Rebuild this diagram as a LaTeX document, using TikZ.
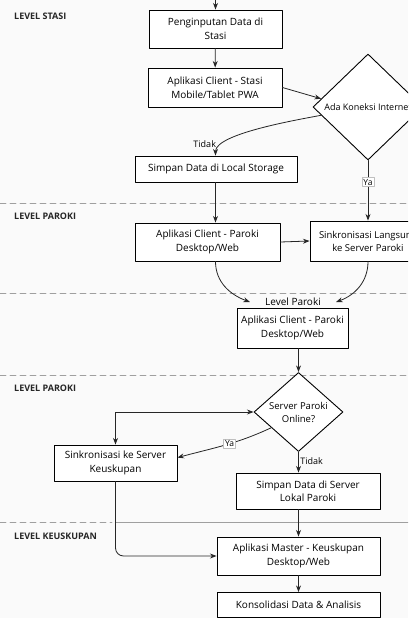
\documentclass[tikz,border=0pt]{standalone}
\usepackage{fontspec}
\setmainfont{Open Sans}
\usepackage{xcolor}
\usepackage{tikz}
\usetikzlibrary{arrows.meta,shapes.geometric}
\tikzset{
  >=Stealth,
  every picture/.style={line cap=round,line join=round},
  box/.style={draw=black, line width=0.9pt, fill=white, align=center,
    inner sep=0pt, font=\fontsize{10}{13.5}\selectfont},
  decision/.style={diamond, aspect=1, draw=black, line width=0.9pt, fill=white,
    align=center, inner sep=0pt, font=\fontsize{9.5}{13}\selectfont},
  lane/.style={draw=gray!75, line width=0.8pt, dash pattern=on 6pt off 4pt},
  lanetitle/.style={anchor=west, inner sep=0pt, text=black!85,
    font=\bfseries\fontsize{9}{10}\selectfont},
  conn/.style={->, draw=black!85, line width=0.8pt},
  edgetext/.style={font=\fontsize{9}{10}\selectfont, inner sep=1.5pt},
  tag/.style={draw=gray!50, fill=white, font=\fontsize{8.5}{10}\selectfont, inner sep=1.5pt},
}

\begin{document}
\begin{tikzpicture}[x=1pt,y=-1pt]
    % 背景と切り抜き
    \useasboundingbox (0,0) rectangle (408,618);
    \fill[black!2] (0,0) rectangle (408,618);
    \clip (0,0) rectangle (408,618);
    % 区切り線
    \foreach \yy in {203,293,375}{%
      \draw[lane] (0,\yy) -- (408,\yy);
    }
    \draw[lane] (0,522) -- (112,522);
    \draw[draw=gray!75, line width=0.8pt] (116,522) -- (408,522);
    % レベル名
    \node[lanetitle] (tStasi) at (14,16) {LEVEL STASI};
    \node[lanetitle] (tParokiA) at (14,216) {LEVEL PAROKI};
    \node[lanetitle] (tParokiB) at (14,388) {LEVEL PAROKI};
    \node[lanetitle] (tKeusk) at (14,536) {LEVEL KEUSKUPAN};
    % 処理ノード
    \node[box, minimum width=133, minimum height=38] (input) at (215.5,29) {Penginputan Data di\\Stasi};
    \node[box, minimum width=134, minimum height=39] (pwa) at (215,87.5) {Aplikasi Client - Stasi\\Mobile/Tablet PWA};
    \node[decision, minimum width=110, minimum height=106, font=\fontsize{9}{12}\selectfont] (net) at (368,107) {Ada Koneksi Internet};
    \node[box, minimum width=162, minimum height=26] (local) at (216,169) {Simpan Data di Local Storage};
    \node[box, minimum width=145, minimum height=38] (client) at (207.5,242) {Aplikasi Client - Paroki\\Desktop/Web};
    \node[box, minimum width=116, minimum height=40, font=\fontsize{9.5}{13}\selectfont] (sync) at (368,241) {Sinkronisasi Langsung\\ke Server Paroki};
    \node[font=\fontsize{10}{12}\selectfont, inner xsep=15pt, inner ysep=1pt] (lvl) at (293,302) {Level Paroki};
    \node[box, minimum width=111, minimum height=40] (app) at (292.5,328) {Aplikasi Client - Paroki\\Desktop/Web};
    \node[decision, minimum width=89, minimum height=74] (online) at (298.5,412) {Server Paroki\\Online?};
    \node[box, minimum width=123, minimum height=36] (sinkk) at (115.5,463) {Sinkronisasi ke Server\\Keuskupan};
    \node[box, minimum width=144, minimum height=36] (lokal) at (308,491) {Simpan Data di Server\\Lokal Paroki};
    \node[box, minimum width=163, minimum height=38] (master) at (298.5,556) {Aplikasi Master - Keuskupan\\Desktop/Web};
    \node[box, minimum width=163, minimum height=25] (konsol) at (298.5,605) {Konsolidasi Data \& Analisis};
    % 接続線
    \coordinate (topin) at (215.5,-4);
    \draw[conn] (topin) -- (input);
    \draw[conn] (input) -- (pwa);
    \draw[conn] (pwa.east) -- (net.170);
    \draw[conn] (net.190) to[out=191,in=90,looseness=0.5]
      node[edgetext, pos=0.9, above left] {Tidak} (local.north -| input.south);
    \draw[conn] (net.south) -- node[tag, pos=0.36] {Ya} (sync.north);
    \draw[conn] (local.south -| input.south) -- (input.south |- client.north);
    \draw[conn] (client.east) -- (sync.west);
    \draw[conn] (input.south |- client.south) to[out=-90,in=160] (lvl.west);
    \draw[conn] (sync.south) to[out=-90,in=20] (lvl.east);
    \draw[conn] (online.north |- app.south) -- (online.north);
    \draw[<->, draw=black!85, line width=0.8pt] (sinkk.north) |- (online.west);
    \draw[conn] (online.210) to[out=205,in=15]
      node[tag, pos=0.45] {Ya} (sinkk.5);
    \draw[conn] (online.south) -- node[edgetext, right, pos=0.45] {Tidak} (online.south |- lokal.north);
    \draw[conn] (master.north |- lokal.south) -- (master.north);
    \draw[conn, rounded corners=8pt] (sinkk.south) |- (master.west);
    \draw[conn] (master) -- (konsol);
  \end{tikzpicture}
\end{document}
